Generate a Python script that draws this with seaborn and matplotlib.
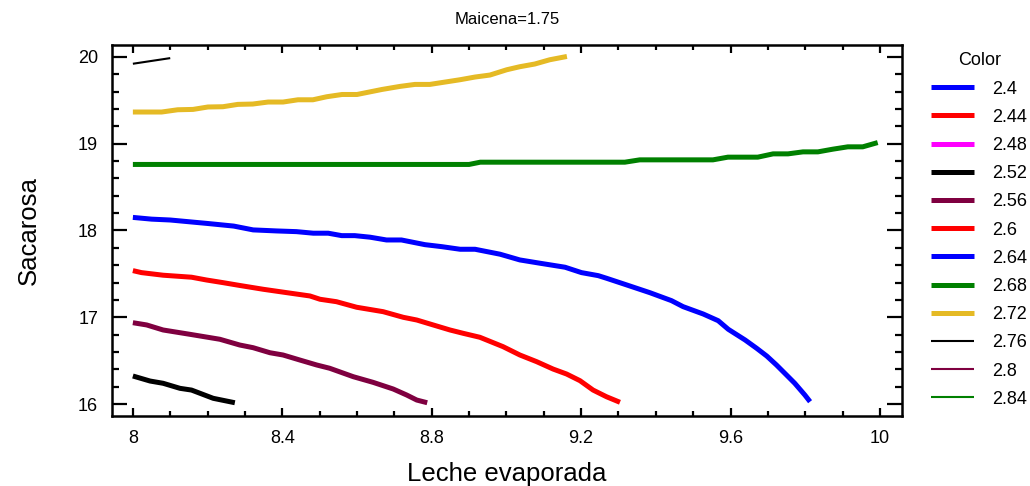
import matplotlib
matplotlib.use("Agg")
import matplotlib.pyplot as plt
from matplotlib.lines import Line2D
from matplotlib.ticker import MultipleLocator
import seaborn as sns

# Contour levels of "Color" and their line styles
levels = [2.4, 2.44, 2.48, 2.52, 2.56, 2.6, 2.64, 2.68, 2.72, 2.76, 2.8, 2.84]
level_colors = ["#0000FF", "#FF0000", "#FF00FF", "#000000", "#7F0040", "#FF0000",
                "#0000FF", "#008000", "#E5BA25", "#000000", "#7F0040", "#008000"]
level_widths = [3.6] * 9 + [1.5] * 3

# Contour traces (Leche evaporada, Sacarosa) at Maicena = 1.75
c252_x = [8.0, 8.046, 8.081, 8.126, 8.157, 8.215, 8.273]
c252_y = [16.323, 16.265, 16.239, 16.181, 16.161, 16.066, 16.015]

c256_x = [8.0, 8.037, 8.081, 8.153, 8.233, 8.286, 8.322, 8.367, 8.402, 8.447,
          8.492, 8.527, 8.59, 8.643, 8.697, 8.733, 8.76, 8.788]
c256_y = [16.937, 16.911, 16.853, 16.803, 16.746, 16.68, 16.649, 16.591, 16.565, 16.507,
          16.45, 16.412, 16.315, 16.25, 16.173, 16.104, 16.046, 16.015]

c260_x = [8.0, 8.023, 8.081, 8.157, 8.197, 8.242, 8.286, 8.349, 8.412, 8.474,
          8.501, 8.545, 8.599, 8.67, 8.724, 8.76, 8.804, 8.849, 8.884, 8.929,
          8.991, 9.036, 9.081, 9.125, 9.161, 9.197, 9.232, 9.268, 9.304]
c260_y = [17.537, 17.514, 17.484, 17.461, 17.429, 17.398, 17.366, 17.322, 17.283, 17.245,
          17.207, 17.179, 17.115, 17.064, 16.999, 16.968, 16.911, 16.853, 16.815, 16.769,
          16.661, 16.565, 16.488, 16.403, 16.346, 16.269, 16.161, 16.084, 16.02]

c264_x = [8.0, 8.05, 8.1, 8.2, 8.27, 8.322, 8.385, 8.438, 8.483, 8.523,
          8.559, 8.594, 8.635, 8.679, 8.719, 8.782, 8.827, 8.876, 8.916, 8.983,
          9.036, 9.09, 9.157, 9.201, 9.246, 9.268, 9.322, 9.384, 9.442, 9.473,
          9.527, 9.567, 9.594, 9.639, 9.67, 9.697, 9.723, 9.75, 9.772, 9.799, 9.813]
c264_y = [18.15, 18.13, 18.12, 18.08, 18.05, 18.006, 17.994, 17.986, 17.968, 17.968,
          17.94, 17.94, 17.922, 17.89, 17.89, 17.836, 17.813, 17.783, 17.783, 17.726,
          17.66, 17.622, 17.576, 17.514, 17.479, 17.449, 17.372, 17.283, 17.191, 17.122,
          17.037, 16.96, 16.861, 16.738, 16.642, 16.553, 16.45, 16.334, 16.239, 16.104, 16.027]

c268_x = [8.0, 8.9, 8.93, 9.317, 9.357, 9.553, 9.593, 9.673, 9.714, 9.754,
          9.794, 9.834, 9.874, 9.914, 9.954, 9.994]
c268_y = [18.76, 18.76, 18.786, 18.786, 18.813, 18.813, 18.844, 18.844, 18.882, 18.882,
          18.905, 18.905, 18.936, 18.963, 18.963, 19.012]

c272_x = [8.0, 8.077, 8.12, 8.161, 8.201, 8.241, 8.281, 8.321, 8.362, 8.402,
          8.442, 8.482, 8.519, 8.56, 8.6, 8.667, 8.715, 8.755, 8.795, 8.876,
          8.916, 8.956, 9.001, 9.036, 9.076, 9.116, 9.162]
c272_y = [19.364, 19.364, 19.39, 19.394, 19.422, 19.425, 19.452, 19.456, 19.479, 19.479,
          19.505, 19.505, 19.54, 19.566, 19.566, 19.624, 19.659, 19.682, 19.682, 19.736,
          19.767, 19.79, 19.851, 19.886, 19.917, 19.966, 20.004]

c276_x = [8.0, 8.1]
c276_y = [19.92, 19.985]

traces = [(2.52, c252_x, c252_y), (2.56, c256_x, c256_y), (2.6, c260_x, c260_y),
          (2.64, c264_x, c264_y), (2.68, c268_x, c268_y), (2.72, c272_x, c272_y),
          (2.76, c276_x, c276_y)]

x_ticks = [8, 8.4, 8.8, 9.2, 9.6, 10]
x_tick_labels = ["8", "8.4", "8.8", "9.2", "9.6", "10"]
y_ticks = [16, 17, 18, 19, 20]

sns.set_theme(style="ticks")
plt.rcParams["font.family"] = ["Liberation Sans", "DejaVu Sans"]
plt.rcParams["text.color"] = "black"
plt.rcParams["axes.labelcolor"] = "black"

fig = plt.figure(figsize=(10.3, 4.86), dpi=100)
ax = fig.add_axes([0.1087, 0.144, 0.767, 0.7634])

for lev, xs, ys in traces:
    i = levels.index(lev)
    sns.lineplot(x=xs, y=ys, sort=False, estimator=None, ax=ax,
                 color=level_colors[i], linewidth=level_widths[i],
                 solid_capstyle="butt", legend=False)

ax.set_xlim(7.944, 10.059)
ax.set_ylim(15.862, 20.136)
ax.set_xticks(x_ticks)
ax.set_xticklabels(x_tick_labels)
ax.set_yticks(y_ticks)
ax.xaxis.set_minor_locator(MultipleLocator(0.1))
ax.yaxis.set_minor_locator(MultipleLocator(0.2))

for s in ax.spines.values():
    s.set_linewidth(1.8)
    s.set_color("black")
    s.set_visible(True)

ax.tick_params(axis="both", which="both", direction="in", top=True, right=True,
               width=1.6, color="black", labelsize=13, labelcolor="black")
ax.tick_params(axis="x", which="major", length=6, pad=10)
ax.tick_params(axis="x", which="minor", length=3.5)
ax.tick_params(axis="y", which="major", length=11, pad=10)
ax.tick_params(axis="y", which="minor", length=5)

ax.set_xlabel("Leche evaporada", fontsize=18.5, labelpad=11, color="black")
ax.set_ylabel("Sacarosa", fontsize=18.5, labelpad=27, color="black")
ax.set_title("Maicena=1.75", fontsize=12, pad=15, color="black")

handles = [Line2D([], [], color=c, linewidth=w, solid_capstyle="butt")
           for c, w in zip(level_colors, level_widths)]
labels = [f"{v:g}" for v in levels]
leg = fig.legend(handles, labels, title="Color", loc="upper left",
                 bbox_to_anchor=(0.897, 0.907), frameon=False, fontsize=13,
                 title_fontsize=13, handlelength=2.4, handletextpad=1.0,
                 labelspacing=0.62, borderaxespad=0)
for t in leg.get_texts():
    t.set_color("black")
leg.get_title().set_color("black")

fig.savefig("out.png", dpi=100)
